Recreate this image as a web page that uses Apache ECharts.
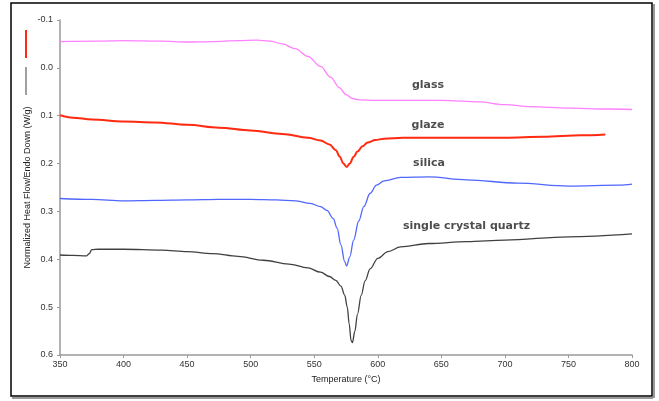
<!DOCTYPE html>
<html><head><meta charset="utf-8">
<script src="https://cdn.jsdelivr.net/npm/echarts@6/dist/echarts.min.js"></script>
<style>html,body{margin:0;padding:0;background:#fff}#c{width:659px;height:401px}</style>
</head><body><div id="c"></div>
<script>
// Temperature (°C), value (W/g) pairs
const glassT = [350,380,400,430,450,470,490,505,515,525,535,545,555,563,570,575,580,585,600,650,680,700,720,750,780,800];
const glassV = [-0.055,-0.056,-0.057,-0.056,-0.054,-0.055,-0.057,-0.058,-0.056,-0.050,-0.040,-0.024,-0.003,0.020,0.042,0.056,0.064,0.067,0.068,0.068,0.071,0.077,0.081,0.084,0.086,0.087];

const glazeT = [350,360,375,400,425,450,475,500,525,545,555,562,567,570,573,575.5,578,581,584,588,592,598,605,620,650,700,730,760,779];
const glazeV = [0.099,0.104,0.108,0.112,0.114,0.119,0.125,0.131,0.138,0.146,0.152,0.160,0.172,0.185,0.200,0.207,0.200,0.186,0.175,0.164,0.156,0.151,0.148,0.146,0.146,0.146,0.144,0.141,0.139];

const silicaT = [350,375,400,425,450,475,500,520,535,547,555,560,565,568,571,574,575.5,578,581,585,589,594,599,605,618,640,670,710,750,790,800];
const silicaV = [0.273,0.275,0.278,0.277,0.276,0.275,0.275,0.276,0.278,0.283,0.290,0.298,0.315,0.335,0.370,0.405,0.414,0.395,0.360,0.320,0.290,0.262,0.245,0.236,0.229,0.228,0.234,0.241,0.247,0.245,0.243];

const quartzT = [350,360,371,373,375,380,400,430,450,470,490,510,530,545,555,562,567,571,574,576,577.5,579,580,582,584,587,590,594,600,608,618,640,670,700,750,800];
const quartzV = [0.391,0.392,0.393,0.388,0.380,0.379,0.379,0.381,0.384,0.388,0.394,0.402,0.410,0.418,0.427,0.436,0.444,0.456,0.475,0.500,0.535,0.570,0.574,0.550,0.515,0.475,0.445,0.420,0.398,0.384,0.374,0.367,0.363,0.360,0.353,0.347];

const curveNames = ['glass','glaze','silica','single crystal quartz'];
const labelT = [639.5, 639.5, 640.3, 669.8];
const labelV = [0.036, 0.119, 0.199, 0.3305];

const xTicks = {min:350, max:800, step:50};
const yTicks = {min:-0.1, max:0.6, step:0.1};

function pairs(t,v){return t.map((x,i)=>[x,v[i]]);}

const chart = echarts.init(document.getElementById('c'));
const lineBase = {type:'line', showSymbol:false, smooth:0.35, smoothMonotone:'x', silent:true};
chart.setOption({
  animation:false,
  backgroundColor:'#fff',
  grid:{left:60,right:27,top:20,bottom:46},
  xAxis:{type:'value',min:xTicks.min,max:xTicks.max,interval:xTicks.step,position:'bottom',
    name:'Temperature (°C)',nameLocation:'middle',nameGap:20,
    nameTextStyle:{fontFamily:'Liberation Sans',fontSize:9,color:'#222'},
    axisLine:{onZero:false,lineStyle:{color:'#9a9a9a',width:1.5}},
    axisTick:{show:true,length:3,lineStyle:{color:'#9a9a9a'}},
    axisLabel:{fontFamily:'Liberation Sans',fontSize:9,color:'#333',margin:5},
    splitLine:{show:false}},
  yAxis:{type:'value',inverse:true,min:yTicks.min,max:yTicks.max,interval:yTicks.step,
    name:'Normalized Heat Flow/Endo Down (W/g)',nameLocation:'middle',nameGap:28,nameMoveOverlap:false,
    nameTextStyle:{fontFamily:'Liberation Sans',fontSize:9,color:'#222'},
    axisLine:{show:true,onZero:false,lineStyle:{color:'#9a9a9a',width:1.5}},
    axisTick:{show:true,length:3,lineStyle:{color:'#9a9a9a'}},
    axisLabel:{fontFamily:'Liberation Sans',fontSize:9,color:'#333',margin:7,
      formatter:v=>(Math.abs(v)<1e-9?0:v).toFixed(1)},
    splitLine:{show:false}},
  series:[
    Object.assign({},lineBase,{name:curveNames[0],data:pairs(glassT,glassV),lineStyle:{color:'#ff80ff',width:1.3}}),
    Object.assign({},lineBase,{name:curveNames[1],data:pairs(glazeT,glazeV),lineStyle:{color:'#ff2a10',width:2}}),
    Object.assign({},lineBase,{name:curveNames[2],data:pairs(silicaT,silicaV),lineStyle:{color:'#4f66ff',width:1.3}}),
    Object.assign({},lineBase,{name:curveNames[3],data:pairs(quartzT,quartzV),lineStyle:{color:'#404040',width:1.3}}),
    {type:'scatter',symbolSize:0,silent:true,
      data:labelT.map((t,i)=>({value:[t,labelV[i]],label:{show:true,position:'inside',formatter:curveNames[i],
        fontFamily:'DejaVu Sans',fontWeight:'bold',fontSize:11,color:'#222'}}))}
  ],
  graphic:[
    {type:'rect',shape:{x:11,y:3,width:641,height:393},style:{fill:null,stroke:'#000',lineWidth:1.5},z:100},
    {type:'line',shape:{x1:12,y1:398,x2:653,y2:398},style:{stroke:'#777',lineWidth:1.5},z:100},
    {type:'line',shape:{x1:654,y1:4,x2:654,y2:398},style:{stroke:'#777',lineWidth:1.5},z:100},
    {type:'line',shape:{x1:26,y1:30,x2:26,y2:58},style:{stroke:'#ff2a10',lineWidth:2}},
    {type:'line',shape:{x1:26,y1:67,x2:26,y2:95},style:{stroke:'#404040',lineWidth:1}}
  ]
});
</script></body></html>
